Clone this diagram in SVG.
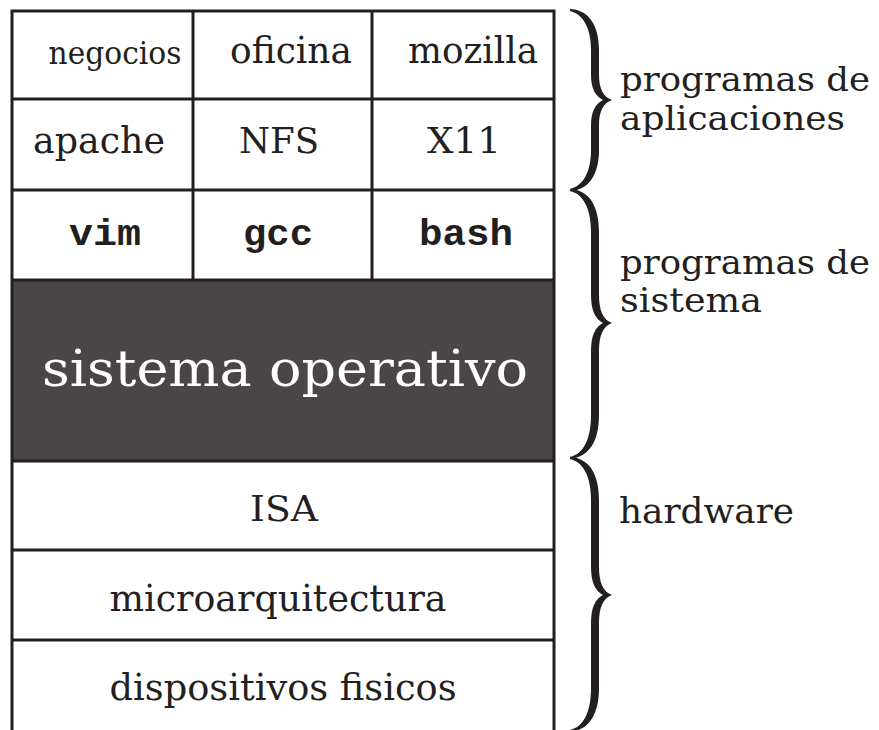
<svg xmlns="http://www.w3.org/2000/svg" width="879" height="730" viewBox="0 0 879 730">
<style>
.ln{stroke:#231f20;stroke-width:3;fill:none}
.t{font-family:"DejaVu Serif","Liberation Serif",serif;fill:#231f20;text-anchor:middle}
.m{font-family:"Liberation Mono","DejaVu Sans Mono",monospace;font-weight:bold;fill:#231f20;text-anchor:middle}
.r{font-family:"DejaVu Serif","Liberation Serif",serif;fill:#231f20;font-size:34px}
.br{fill:#231f20}
</style>
<rect width="879" height="730" fill="#ffffff"/>
<g id="os-layer">
<rect x="12" y="280" width="542" height="181" fill="#4a4546"/>
<text class="t" x="285" y="386" font-size="51" style="fill:#ffffff" textLength="486" lengthAdjust="spacingAndGlyphs">sistema operativo</text>
</g>
<g id="grid">
<rect class="ln" x="12" y="11" width="542" height="730"/>
<line class="ln" x1="12" y1="99" x2="554" y2="99"/>
<line class="ln" x1="12" y1="190" x2="554" y2="190"/>
<line class="ln" x1="12" y1="280" x2="554" y2="280"/>
<line class="ln" x1="12" y1="461" x2="554" y2="461"/>
<line class="ln" x1="12" y1="550" x2="554" y2="550"/>
<line class="ln" x1="12" y1="640" x2="554" y2="640"/>
<line class="ln" x1="193" y1="11" x2="193" y2="280"/>
<line class="ln" x1="372" y1="11" x2="372" y2="280"/>
</g>
<g id="negocios"><text class="t" x="115" y="64" font-size="32" textLength="133" lengthAdjust="spacingAndGlyphs">negocios</text></g>
<g id="oficina"><text class="t" x="291" y="63" font-size="37" textLength="122" lengthAdjust="spacingAndGlyphs">oficina</text></g>
<g id="mozilla"><text class="t" x="473" y="63" font-size="37" textLength="130" lengthAdjust="spacingAndGlyphs">mozilla</text></g>
<g id="apache"><text class="t" x="99" y="153" font-size="37" textLength="132" lengthAdjust="spacingAndGlyphs">apache</text></g>
<g id="nfs"><text class="t" x="279" y="153" font-size="36" textLength="80" lengthAdjust="spacingAndGlyphs">NFS</text></g>
<g id="x11"><text class="t" x="464" y="153" font-size="36" textLength="74" lengthAdjust="spacingAndGlyphs">X11</text></g>
<g id="vim"><text class="m" x="105" y="245" font-size="36" textLength="72" lengthAdjust="spacingAndGlyphs">vim</text></g>
<g id="gcc"><text class="m" x="278" y="245" font-size="36" textLength="70" lengthAdjust="spacingAndGlyphs">gcc</text></g>
<g id="bash"><text class="m" x="466" y="245" font-size="36" textLength="94" lengthAdjust="spacingAndGlyphs">bash</text></g>
<g id="isa"><text class="t" x="284" y="521" font-size="36" textLength="68" lengthAdjust="spacingAndGlyphs">ISA</text></g>
<g id="micro"><text class="t" x="278" y="611" font-size="37" textLength="337" lengthAdjust="spacingAndGlyphs">microarquitectura</text></g>
<g id="disp"><text class="t" x="283" y="700" font-size="37" textLength="347" lengthAdjust="spacingAndGlyphs">dispositivos fisicos</text></g>
<g id="braces">
<path class="br" d="M570 9 C590 10 599 27 599 50 L599 75 C599 88 603 97 612 100 C603 103 599 112 599 125 L599 150 C599 173 590 190 570 191 L570 189 C583 186 591 172 591 150 L591 125 C591 112 595 104 603 100 C595 96 591 88 591 75 L591 50 C591 28 583 14 570 11 Z"/>
<path class="br" d="M570 189 C590 190 599 207 599 232 L599 295 C599 310 603 320 612 323 C603 326 599 336 599 351 L599 415 C599 440 590 457 570 459 L570 457 C583 454 591 440 591 415 L591 351 C591 336 595 327 603 323 C595 319 591 310 591 295 L591 232 C591 208 583 194 570 191 Z"/>
<path class="br" d="M570 457 C590 458 599 475 599 500 L599 567 C599 582 603 592 612 595 C603 598 599 608 599 623 L599 688 C599 713 590 730 570 732 L570 730 C583 727 591 713 591 688 L591 623 C591 608 595 599 603 595 C595 591 591 582 591 567 L591 500 C591 476 583 462 570 459 Z"/>
</g>
<g id="labels">
<text class="r" x="620" y="91" textLength="250" lengthAdjust="spacingAndGlyphs">programas de</text>
<text class="r" x="620" y="130" textLength="225" lengthAdjust="spacingAndGlyphs">aplicaciones</text>
<text class="r" x="620" y="274" textLength="250" lengthAdjust="spacingAndGlyphs">programas de</text>
<text class="r" x="620" y="312" textLength="142" lengthAdjust="spacingAndGlyphs">sistema</text>
<text class="r" x="619" y="523" font-size="36" style="font-size:36px" textLength="175" lengthAdjust="spacingAndGlyphs">hardware</text>
</g>
</svg>
